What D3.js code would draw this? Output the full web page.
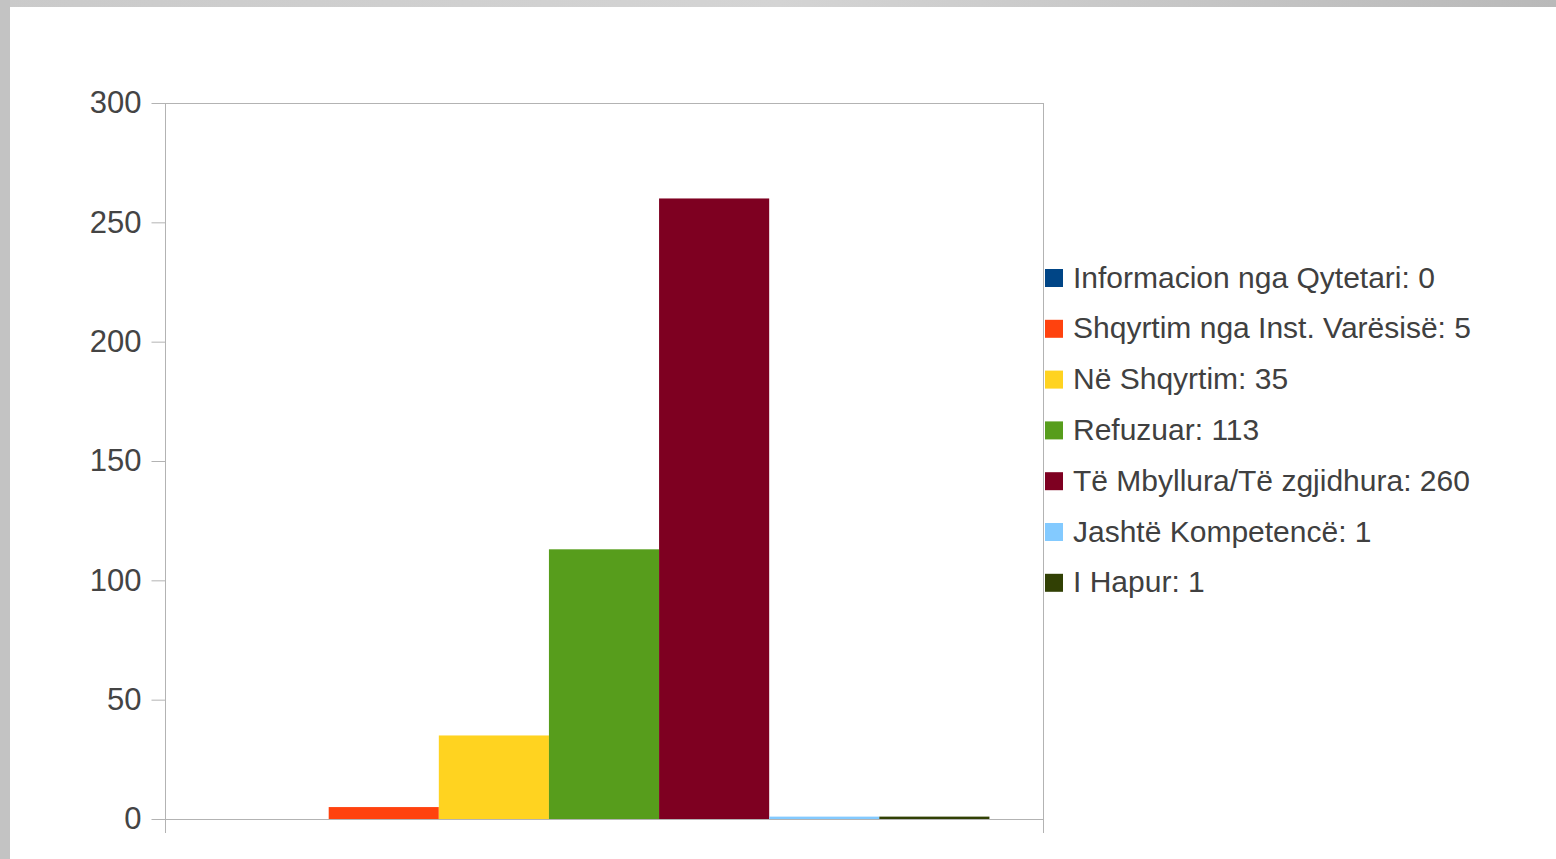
<!DOCTYPE html>
<html><head><meta charset="utf-8">
<script src="https://cdn.jsdelivr.net/npm/d3@7/dist/d3.min.js"></script>
<style>html,body{margin:0;padding:0;overflow:hidden;background:#fff}</style>
</head><body>
<svg id="c" width="1556" height="859"></svg>
<script>
const categories = [""];
const seriesNames = ["Informacion nga Qytetari", "Shqyrtim nga Inst. Varësisë", "Në Shqyrtim", "Refuzuar", "Të Mbyllura/Të zgjidhura", "Jashtë Kompetencë", "I Hapur"];
const seriesValues = [0, 5, 35, 113, 260, 1, 1];
const seriesColors = ["#004586", "#ff420e", "#ffd320", "#579d1c", "#7e0021", "#83caff", "#314004"];
const yTicks = [0, 50, 100, 150, 200, 250, 300];

const svg = d3.select("#c");
const defs = svg.append("defs");
const g1 = defs.append("linearGradient").attr("id","bg").attr("x1","0").attr("x2","1").attr("y1","0").attr("y2","0");
g1.append("stop").attr("offset","0").attr("stop-color","#cacaca");
g1.append("stop").attr("offset","0.5").attr("stop-color","#d4d4d4");
g1.append("stop").attr("offset","1").attr("stop-color","#b9b9b9");
svg.append("rect").attr("width",1556).attr("height",859).attr("fill","url(#bg)");
svg.append("rect").attr("x",0).attr("y",0).attr("width",10).attr("height",859).attr("fill","#c3c3c3");
svg.append("rect").attr("x",10).attr("y",7).attr("width",1546).attr("height",852).attr("fill","#ffffff");

const L = 165, R = 1043, T = 103, B = 819;
const y = d3.scaleLinear().domain([0,300]).range([B,T]);
const x0 = d3.scaleBand().domain(categories).range([L,R]).paddingInner(0).paddingOuter(0.0695);
const x1 = d3.scaleBand().domain(seriesNames).range([0, x0.bandwidth()]);

const lineCol = "#b3b3b3";
svg.append("line").attr("x1",L).attr("x2",R).attr("y1",T+0.5).attr("y2",T+0.5).attr("stroke",lineCol);
svg.append("line").attr("x1",R+0.5).attr("x2",R+0.5).attr("y1",T).attr("y2",B+14).attr("stroke",lineCol);

const gb = svg.append("g");
categories.forEach(c => {
  seriesNames.forEach((s,i) => {
    const v = seriesValues[i];
    gb.append("rect")
      .attr("x", x0(c) + x1(s))
      .attr("y", y(v))
      .attr("width", x1.bandwidth())
      .attr("height", B - y(v))
      .attr("fill", seriesColors[i]);
  });
});

const ya = svg.append("g").attr("transform",`translate(${L+0.5},0)`)
  .call(d3.axisLeft(y).tickValues(yTicks).tickSize(14).tickPadding(10).tickFormat(d3.format("d")));
ya.select(".domain").attr("stroke",lineCol).attr("d",`M0,${T}V${B+14}`);
ya.selectAll(".tick line").attr("stroke",lineCol);
ya.selectAll(".tick text").attr("fill","#444").style("font-family","'Liberation Sans', Arial, sans-serif").style("font-size","31px");

const xa = svg.append("g").attr("transform",`translate(0,${B+0.5})`)
  .call(d3.axisBottom(x0).tickSize(0).tickFormat(""));
xa.select(".domain").attr("stroke",lineCol).attr("d",`M${L},0H${R}`);

const lg = svg.append("g");
seriesNames.forEach((s,i) => {
  const cy = 278 + i*50.8;
  lg.append("rect").attr("x",1045).attr("y",cy-9).attr("width",18).attr("height",18).attr("fill",seriesColors[i]);
  lg.append("text").attr("x",1073).attr("y",cy-1).attr("dy","0.35em")
    .attr("fill","#404040").style("font-family","'Liberation Sans', Arial, sans-serif").style("font-size","30px")
    .text(`${s}: ${seriesValues[i]}`);
});
</script>
</body></html>
